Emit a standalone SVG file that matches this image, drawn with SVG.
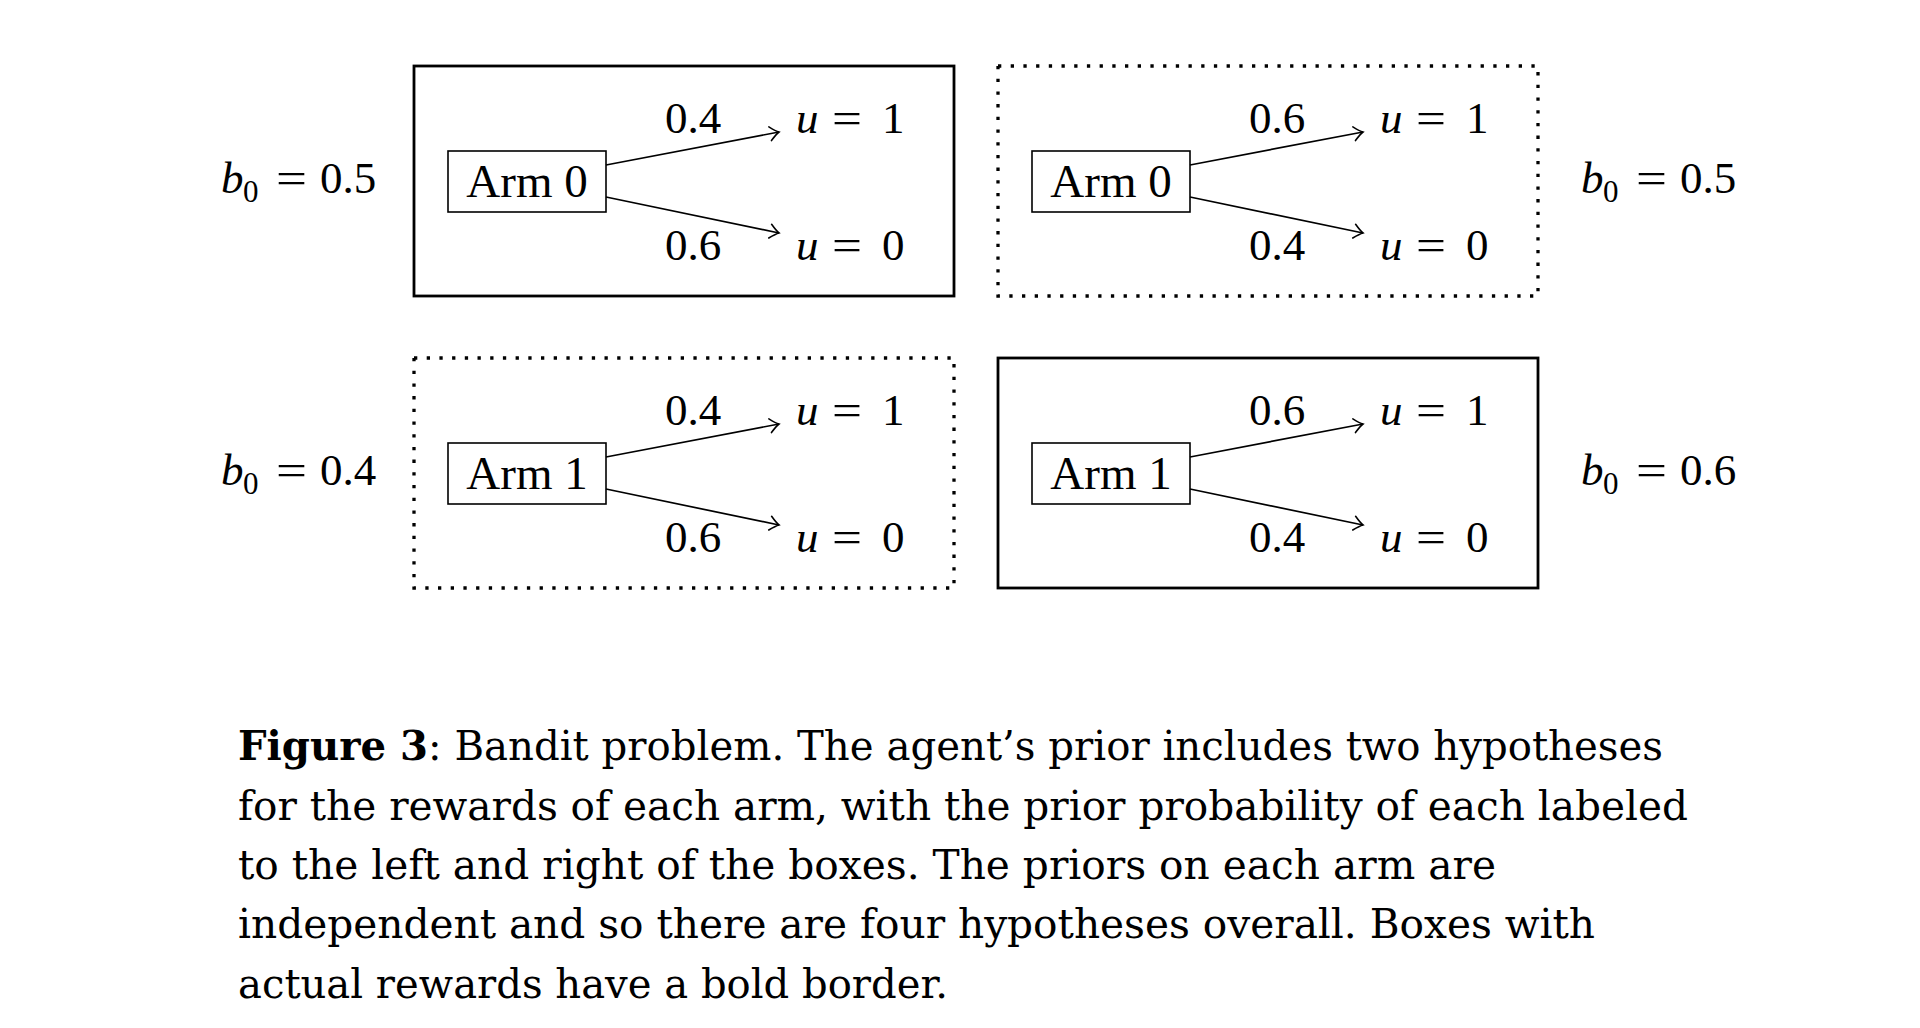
<svg xmlns="http://www.w3.org/2000/svg" width="1920" height="1028" viewBox="0 0 1920 1028">
<style>
.bold{fill:none;stroke:#000;stroke-width:2.8}
.dot{fill:none;stroke:#000;stroke-width:3.3;stroke-dasharray:3.3 9.4}
.arm{fill:#fff;stroke:#000;stroke-width:1.6}
.m{font-family:"Liberation Serif","Times New Roman",serif;font-size:45px;fill:#000}
.armt{font-family:"Liberation Serif","Times New Roman",serif;font-size:47px;fill:#000;text-anchor:middle}
.it{font-style:italic}
.sub{font-size:31px}
.c{text-anchor:middle}
.edge{fill:none;stroke:#000;stroke-width:1.7;marker-end:url(#to)}
.cap{font-family:"DejaVu Serif",serif;font-size:41px;fill:#000}
</style>
<defs>
<marker id="to" markerUnits="userSpaceOnUse" viewBox="-12 -9 14 18" refX="0" refY="0" markerWidth="14" markerHeight="18" orient="auto">
<path d="M-9,-7 Q-3,-1.5 0,0 Q-3,1.5 -9,7" fill="none" stroke="#000" stroke-width="1.6" stroke-linecap="round"/>
</marker>
</defs>
<rect width="1920" height="1028" fill="#fff"/>

<g id="node-top-left">
<rect class="bold" x="414" y="66" width="540" height="230"/>
<rect class="arm" x="448" y="151" width="158" height="61"/>
<text class="armt" x="527" y="197">Arm 0</text>
<text class="m c" x="693" y="133">0.4</text>
<text class="m c" x="693" y="260">0.6</text>
<text class="m it" x="796" y="133">u</text><text class="m" x="832" y="133" textLength="30" lengthAdjust="spacingAndGlyphs">=</text><text class="m" x="882" y="133">1</text>
<text class="m it" x="796" y="260">u</text><text class="m" x="832" y="260" textLength="30" lengthAdjust="spacingAndGlyphs">=</text><text class="m" x="882" y="260">0</text>
</g>

<g id="node-top-right">
<rect class="dot" x="998" y="66" width="540" height="230"/>
<rect class="arm" x="1032" y="151" width="158" height="61"/>
<text class="armt" x="1111" y="197">Arm 0</text>
<text class="m c" x="1277" y="133">0.6</text>
<text class="m c" x="1277" y="260">0.4</text>
<text class="m it" x="1380" y="133">u</text><text class="m" x="1416" y="133" textLength="30" lengthAdjust="spacingAndGlyphs">=</text><text class="m" x="1466" y="133">1</text>
<text class="m it" x="1380" y="260">u</text><text class="m" x="1416" y="260" textLength="30" lengthAdjust="spacingAndGlyphs">=</text><text class="m" x="1466" y="260">0</text>
</g>

<g id="node-bottom-left">
<rect class="dot" x="414" y="358" width="540" height="230"/>
<rect class="arm" x="448" y="443" width="158" height="61"/>
<text class="armt" x="527" y="489">Arm 1</text>
<text class="m c" x="693" y="425">0.4</text>
<text class="m c" x="693" y="552">0.6</text>
<text class="m it" x="796" y="425">u</text><text class="m" x="832" y="425" textLength="30" lengthAdjust="spacingAndGlyphs">=</text><text class="m" x="882" y="425">1</text>
<text class="m it" x="796" y="552">u</text><text class="m" x="832" y="552" textLength="30" lengthAdjust="spacingAndGlyphs">=</text><text class="m" x="882" y="552">0</text>
</g>

<g id="node-bottom-right">
<rect class="bold" x="998" y="358" width="540" height="230"/>
<rect class="arm" x="1032" y="443" width="158" height="61"/>
<text class="armt" x="1111" y="489">Arm 1</text>
<text class="m c" x="1277" y="425">0.6</text>
<text class="m c" x="1277" y="552">0.4</text>
<text class="m it" x="1380" y="425">u</text><text class="m" x="1416" y="425" textLength="30" lengthAdjust="spacingAndGlyphs">=</text><text class="m" x="1466" y="425">1</text>
<text class="m it" x="1380" y="552">u</text><text class="m" x="1416" y="552" textLength="30" lengthAdjust="spacingAndGlyphs">=</text><text class="m" x="1466" y="552">0</text>
</g>

<g id="prior-labels">
<text class="m it" x="221" y="193">b</text><text class="m sub" x="243" y="202">0</text><text class="m" x="276" y="193" textLength="31" lengthAdjust="spacingAndGlyphs">=</text><text class="m" x="320" y="193">0.5</text>
<text class="m it" x="221" y="485">b</text><text class="m sub" x="243" y="494">0</text><text class="m" x="276" y="485" textLength="31" lengthAdjust="spacingAndGlyphs">=</text><text class="m" x="320" y="485">0.4</text>
<text class="m it" x="1581" y="193">b</text><text class="m sub" x="1603" y="202">0</text><text class="m" x="1636" y="193" textLength="31" lengthAdjust="spacingAndGlyphs">=</text><text class="m" x="1680" y="193">0.5</text>
<text class="m it" x="1581" y="485">b</text><text class="m sub" x="1603" y="494">0</text><text class="m" x="1636" y="485" textLength="31" lengthAdjust="spacingAndGlyphs">=</text><text class="m" x="1680" y="485">0.6</text>
</g>

<g id="connectors">
<line class="edge" x1="606" y1="165" x2="779" y2="132"/>
<line class="edge" x1="606" y1="197" x2="779" y2="233"/>
<line class="edge" x1="1190" y1="165" x2="1363" y2="132"/>
<line class="edge" x1="1190" y1="197" x2="1363" y2="233"/>
<line class="edge" x1="606" y1="457" x2="779" y2="424"/>
<line class="edge" x1="606" y1="489" x2="779" y2="525"/>
<line class="edge" x1="1190" y1="457" x2="1363" y2="424"/>
<line class="edge" x1="1190" y1="489" x2="1363" y2="525"/>
</g>

<g id="caption">
<text class="cap" x="238" y="760" textLength="1425" lengthAdjust="spacingAndGlyphs"><tspan font-weight="bold">Figure 3</tspan>: Bandit problem. The agent’s prior includes two hypotheses</text>
<text class="cap" x="238" y="820" textLength="1450" lengthAdjust="spacingAndGlyphs">for the rewards of each arm, with the prior probability of each labeled</text>
<text class="cap" x="238" y="879" textLength="1258" lengthAdjust="spacingAndGlyphs">to the left and right of the boxes. The priors on each arm are</text>
<text class="cap" x="238" y="938" textLength="1357" lengthAdjust="spacingAndGlyphs">independent and so there are four hypotheses overall. Boxes with</text>
<text class="cap" x="238" y="998" textLength="710" lengthAdjust="spacingAndGlyphs">actual rewards have a bold border.</text>
</g>
</svg>
